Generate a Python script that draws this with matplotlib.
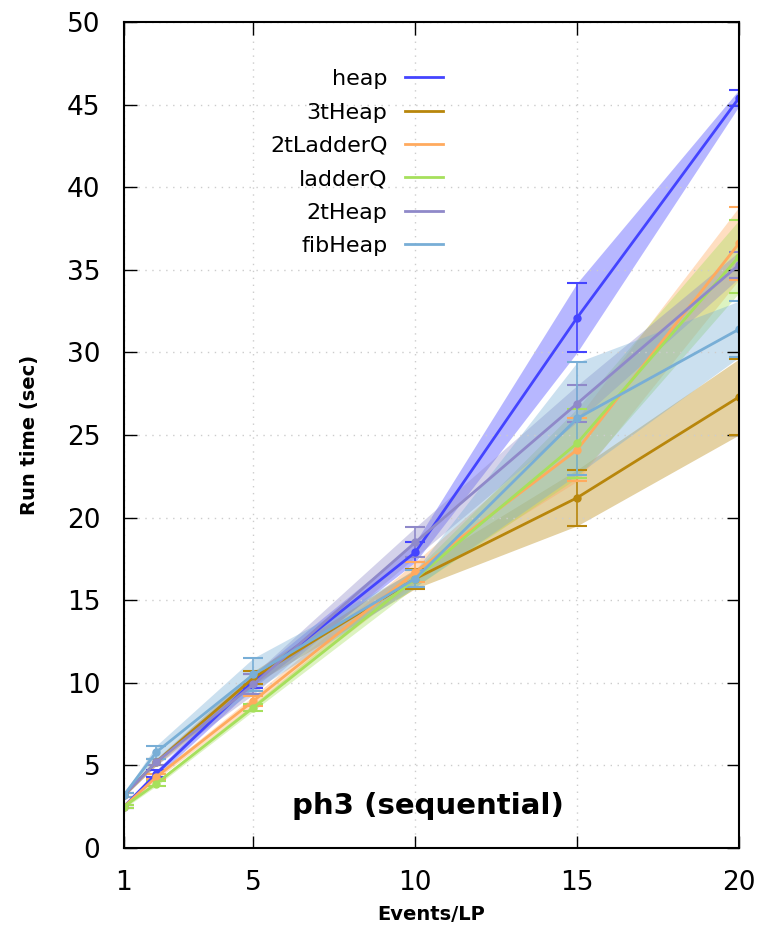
import matplotlib.pyplot as plt
import numpy as np

# events per LP
x = [1, 2, 5, 10, 15, 20]

labels = ['heap', '3tHeap', '2tLadderQ', 'ladderQ', '2tHeap', 'fibHeap']
colors = ['#4444ff', '#b8860b', '#ffaa5e', '#a6e05c', '#8f89c9', '#78aed6']

heap = [2.5, 4.5, 10.1, 17.9, 32.1, 45.4]
heap_err = [0.1, 0.2, 0.4, 0.6, 2.1, 0.5]
t3heap = [3.2, 5.2, 10.3, 16.3, 21.2, 27.3]
t3heap_err = [0.1, 0.2, 0.4, 0.6, 1.7, 2.3]
t2ladderq = [2.5, 4.3, 8.9, 16.7, 24.1, 36.6]
t2ladderq_err = [0.1, 0.15, 0.3, 0.6, 1.9, 2.2]
ladderq = [2.5, 3.9, 8.5, 16.3, 24.5, 35.8]
ladderq_err = [0.1, 0.15, 0.2, 0.5, 2.1, 2.2]
t2heap = [3.2, 5.2, 9.9, 18.5, 26.9, 35.3]
t2heap_err = [0.1, 0.2, 0.6, 0.9, 1.1, 0.8]
fibheap = [3.2, 5.8, 10.5, 16.3, 26.0, 31.4]
fibheap_err = [0.1, 0.4, 1.0, 0.5, 3.4, 1.7]

means = [heap, t3heap, t2ladderq, ladderq, t2heap, fibheap]
errs = [heap_err, t3heap_err, t2ladderq_err, ladderq_err, t2heap_err, fibheap_err]

fig = plt.figure(figsize=(7.65, 9.31), dpi=100)
ax = fig.add_axes([0.162, 0.0892, 0.804, 0.8872])

for lab, c, m, e in zip(labels, colors, means, errs):
	m = np.array(m)
	e = np.array(e)
	ax.fill_between(x, m - e, m + e, color=c, alpha=0.38, linewidth=0)
	ax.errorbar(x, m, yerr=e, color=c, linewidth=2, marker='o', markersize=5,
		capsize=7, capthick=1.5, elinewidth=1.2, label=lab)

ax.set_xlim(1, 20)
ax.set_ylim(0, 50)
ax.set_xticks([1, 5, 10, 15, 20])
ax.set_yticks(range(0, 51, 5))
ax.tick_params(direction='in', length=9, width=1, labelsize=19, top=True, right=True)
ax.tick_params(axis='x', pad=16)
ax.tick_params(axis='y', pad=17)
ax.grid(True, color='#cccccc', linestyle=(0, (1, 4)), linewidth=1)
for s in ax.spines.values():
	s.set_linewidth(1.5)

ax.set_xlabel('Events/LP', fontsize=14, fontweight='bold', labelpad=6)
ax.set_ylabel('Run time (sec)', fontsize=14, fontweight='bold', labelpad=20)
ax.text(0.495, 0.051, 'ph3 (sequential)', transform=ax.transAxes, fontsize=21,
	fontweight='bold', ha='center', va='center')

handles = [plt.Line2D([], [], color=c, linewidth=2) for c in colors]
ax.legend(handles, labels, loc='upper left', bbox_to_anchor=(0.205, 0.967), frameon=False,
	markerfirst=False, fontsize=16, handlelength=1.7, labelspacing=0.6, handletextpad=0.8)
for t in ax.get_legend().get_texts():
	t.set_ha('right')
ax.get_legend()._legend_box.align = 'right'

fig.savefig('out.png', dpi=100)
